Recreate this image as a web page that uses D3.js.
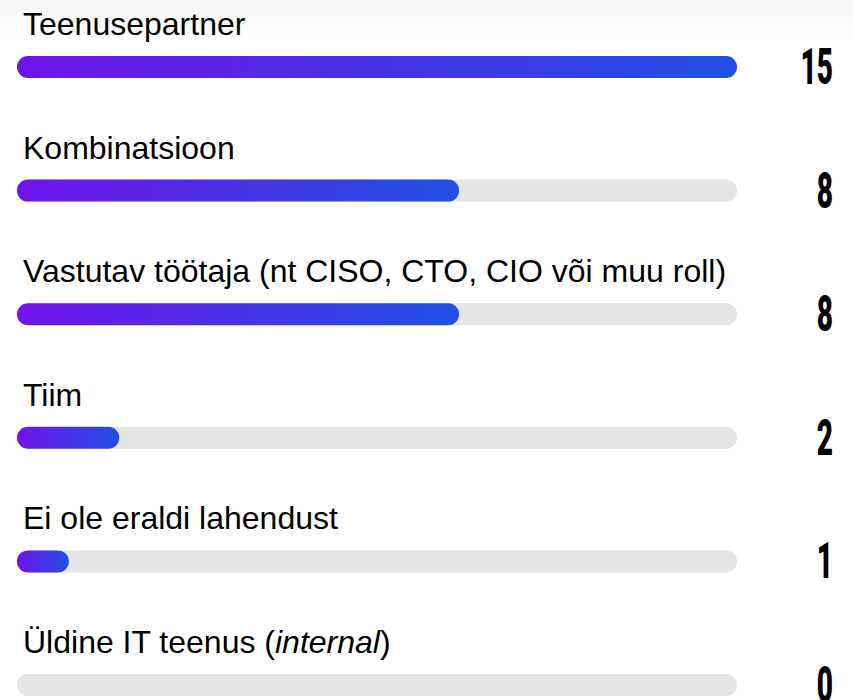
<!DOCTYPE html>
<html>
<head>
<meta charset="utf-8">
<script src="https://cdn.jsdelivr.net/npm/d3@7"></script>
<style>
  html, body { margin: 0; padding: 0; background: #fff; }
  svg { display: block; }
</style>
</head>
<body>
<div id="chart"></div>
<script>
// answer options, as shown
const labels = [
    "Teenusepartner",
    "Kombinatsioon",
    "Vastutav töötaja (nt CISO, CTO, CIO või muu roll)",
    "Tiim",
    "Ei ole eraldi lahendust",
    "Üldine IT teenus (internal)"
];
const counts = [15, 8, 8, 2, 1, 0];          // number at the right
const barShare = [100, 61.4, 61.4, 14.2, 7.2, 0]; // bar fill, % of track

var w = 853;
var h = 700;

var svg = d3.select("#chart")
    .append("svg")
    .attr("width", w)
    .attr("height", h);

var defs = svg.append("defs");

var grad = defs.append("linearGradient") //purple -> blue in each bar
    .attr("id", "barGrad")
    .attr("x1", "0%").attr("x2", "100%")
    .attr("y1", "0%").attr("y2", "0%");
grad.append("stop").attr("offset", "0%").attr("stop-color", "#7014ea");
grad.append("stop").attr("offset", "100%").attr("stop-color", "#2150e3");

var topShade = defs.append("linearGradient")
    .attr("id", "topShade")
    .attr("x1", "0").attr("x2", "0")
    .attr("y1", "0").attr("y2", "1");
topShade.append("stop").attr("offset", "0%").attr("stop-color", "#f5f5f5");
topShade.append("stop").attr("offset", "100%").attr("stop-color", "#ffffff");

svg.append("rect") //faint shade at the top edge
    .attr("width", w)
    .attr("height", 42)
    .attr("fill", "url(#topShade)");

var barH = 22;

var x = d3.scaleLinear()
    .domain([0, 100])
    .range([17, 737]);

var y = d3.scalePoint()
    .domain(labels)
    .range([56, 674]);

var rows = svg.selectAll("g.row")
    .data(labels.map(function(d, i) {
        return {label: d, count: counts[i], share: barShare[i]};
    }))
    .enter()
    .append("g")
    .attr("class", "row")
    .attr("transform", function(d) {
        return "translate(0," + y(d.label) + ")";
    });

// label above the bar
var lab = rows.append("text")
    .attr("x", 23)
    .attr("y", -21)
    .attr("font-family", "Liberation Sans, Arial, sans-serif")
    .attr("font-size", 32)
    .attr("fill", "#000");

lab.each(function(d) {
    var t = d3.select(this);
    var m = d.label.match(/^(.*\()(internal)(\).*)$/);
    if (m) {
        t.append("tspan").text(m[1]);
        t.append("tspan").attr("font-style", "italic").text(m[2]);
        t.append("tspan").text(m[3]);
    } else {
        t.text(d.label);
    }
});

// grey track
rows.append("rect")
    .attr("x", x(0))
    .attr("y", 0)
    .attr("width", x(100) - x(0))
    .attr("height", barH)
    .attr("rx", barH / 2)
    .attr("fill", "#e5e5e5");

// filled bar
rows.filter(function(d) { return d.share > 0; })
    .append("rect")
    .attr("x", x(0))
    .attr("y", 0)
    .attr("width", function(d) { return x(d.share) - x(0); })
    .attr("height", barH)
    .attr("rx", barH / 2)
    .attr("fill", "url(#barGrad)");

// count on the right, narrow bold figures
rows.append("text")
    .attr("transform", "translate(833," + (barH / 2 + 17) + ") scale(0.56,1)")
    .attr("text-anchor", "end")
    .attr("font-family", "Roboto, Liberation Sans, sans-serif")
    .attr("font-weight", 900)
    .attr("font-size", 50)
    .attr("fill", "#000")
    .text(function(d) { return d.count; });
</script>
</body>
</html>
